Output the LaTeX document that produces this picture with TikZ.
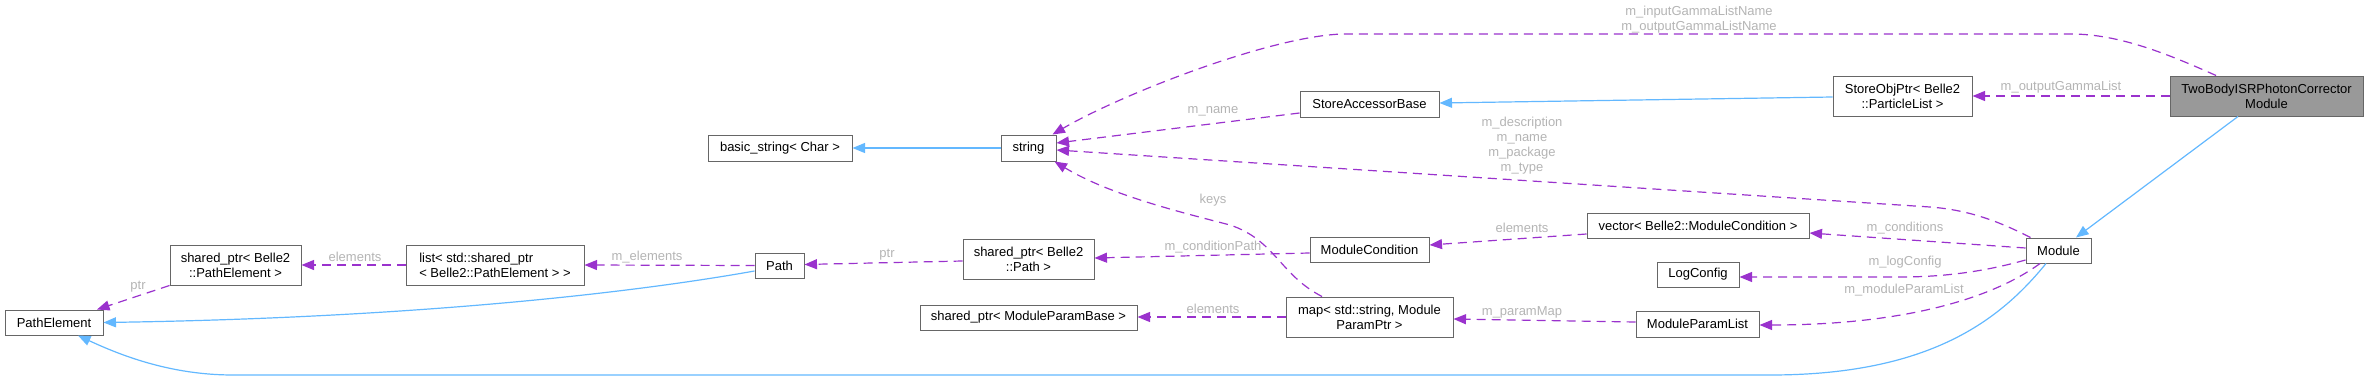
\documentclass[tikz,border=0pt]{standalone}
\usepackage{fontspec}
\setmainfont{Liberation Sans}
\usetikzlibrary{arrows.meta,calc}
\definecolor{edgepurple}{HTML}{9A32CD}
\definecolor{edgeblue}{HTML}{63B8FF}
\definecolor{boxborder}{HTML}{666666}
\definecolor{lblgray}{HTML}{B4B4B4}
\definecolor{tbfill}{HTML}{999999}
\begin{document}
\begin{tikzpicture}[x=1pt,y=-1pt,
  cls/.style={draw=boxborder,line width=1pt,fill=white,inner sep=0pt,align=center,
    font=\fontsize{13}{15}\selectfont,text=black},
  lbl/.style={font=\fontsize{13}{15}\selectfont,text=lblgray,inner sep=0pt,align=center},
  dep/.style={draw=edgepurple,line width=1.2pt,dash pattern=on 9pt off 6pt,
    -{Triangle[length=12.5pt,width=10pt,fill=edgepurple]}},
  inh/.style={draw=edgeblue,line width=1.2pt,
    -{Triangle[length=12.5pt,width=10pt,fill=edgeblue]}}]
\useasboundingbox (0,0) rectangle (2368,380);
% nodes
\node[cls,minimum width=98pt,minimum height=25pt] (pe) at (54,322.5) {PathElement};
\node[cls,minimum width=131pt,minimum height=40pt] (sppe) at (235.5,265) {shared\_ptr< Belle2\\::PathElement >};
\node[cls,minimum width=178pt,minimum height=40pt,align=left] (lst) at (495,265) {list< std::shared\_ptr\\< Belle2::PathElement > >};
\node[cls,minimum width=49pt,minimum height=25pt] (path) at (779.5,265.5) {Path};
\node[cls,minimum width=144pt,minimum height=26pt] (bstr) at (780,148) {basic\_string< Char >};
\node[cls,minimum width=55pt,minimum height=26pt] (str) at (1028.5,148) {string};
\node[cls,minimum width=131pt,minimum height=40pt] (sppath) at (1028.5,259) {shared\_ptr< Belle2\\::Path >};
\node[cls,minimum width=217pt,minimum height=25pt] (spmpb) at (1028.5,317.5) {shared\_ptr< ModuleParamBase >};
\node[cls,minimum width=139pt,minimum height=26pt] (sab) at (1369.5,104) {StoreAccessorBase};
\node[cls,minimum width=119pt,minimum height=25pt] (mc) at (1369.5,249.5) {ModuleCondition};
\node[cls,minimum width=167pt,minimum height=40pt] (map) at (1369.5,317) {map< std::string, Module\\ParamPtr >};
\node[cls,minimum width=222pt,minimum height=25pt] (vec) at (1698,225.5) {vector< Belle2::ModuleCondition >};
\node[cls,minimum width=82pt,minimum height=25pt] (log) at (1698,274.5) {LogConfig};
\node[cls,minimum width=123pt,minimum height=26pt] (mpl) at (1697.5,324) {ModuleParamList};
\node[cls,minimum width=139pt,minimum height=40pt] (sop) at (1902.5,96) {StoreObjPtr< Belle2\\::ParticleList >};
\node[cls,minimum width=193pt,minimum height=40pt,fill=tbfill] (tb) at (2266.5,96) {TwoBodyISRPhotonCorrector\\Module};
\node[cls,minimum width=65pt,minimum height=25pt] (mod) at (2058.5,250.5) {Module};
% labels
\node[lbl] (l1) at (1699,19.5) {m\_inputGammaListName\\m\_outputGammaListName};
\node[lbl] (l2) at (2061,87) {m\_outputGammaList};
\node[lbl] (l3) at (1213,111) {m\_name};
\node[lbl] (l4) at (1522,146) {m\_description\\m\_name\\m\_package\\m\_type};
\node[lbl] (l5) at (1213,200) {keys};
\node[lbl] (l6) at (1213,247) {m\_conditionPath};
\node[lbl] (l7) at (1213,309) {elements};
\node[lbl] (l8) at (1522,228) {elements};
\node[lbl] (l9) at (1522,312) {m\_paramMap};
\node[lbl] (l10) at (1905,228) {m\_conditions};
\node[lbl] (l11) at (1905,262) {m\_logConfig};
\node[lbl] (l12) at (1904,290) {m\_moduleParamList};
\node[lbl] (l13) at (887,255) {ptr};
\node[lbl] (l14) at (647,257) {m\_elements};
\node[lbl] (l15) at (355,257) {elements};
\node[lbl] (l16) at (138,287) {ptr};
% edges
\draw[dep] ($(tb.north)+(-50.5,0)$) .. controls (2170,55) and (2120,34) .. (2071,34)
  -- (1343,34) .. controls (1270,36) and (1120,95) .. ($(str.north east)+(-4,0)$);
\draw[inh] ($(sop.west)+(0,1)$) -- ($(sab.east)+(0,-1)$);
\draw[dep] (tb.west) -- (sop.east);
\draw[dep] ($(sab.west)+(0,9)$) -- ($(str.east)+(0,-5)$);
\draw[dep] ($(mod.north west)+(5,0)$) .. controls (2000,222) and (1970,210) .. (1930,207)
  -- ($(str.east)+(0,2)$);
\draw[dep] ($(map.north)+(-47.5,0)$) .. controls (1280,275) and (1275,240) .. (1230,225)
  .. controls (1180,212) and (1110,195) .. ($(str.south east)+(-2,0)$);
\draw[dep] ($(mod.west)+(0,-2.5)$) -- ($(vec.east)+(0,7.5)$);
\draw[dep] ($(mod.west)+(0,9.5)$) .. controls (1990,270) and (1950,277) .. (1900,277)
  -- ($(log.east)+(0,2.5)$);
\draw[dep] ($(mod.south)+(-18.5,0)$) .. controls (1990,300) and (1900,325) .. ($(mpl.east)+(0,1)$);
\draw[inh] ($(tb.south)+(-28.5,0)$) -- ($(mod.north)+(17.5,0)$);
\draw[inh] ($(mod.south)+(-12.5,0)$) .. controls (2000,320) and (1930,375) .. (1770,375)
  -- (233,375) .. controls (170,375) and (120,355) .. ($(pe.south)+(24,0)$);
\draw[inh] ($(path.west)+(0,5.5)$) .. controls (620,295) and (400,318) .. (pe.east);
\draw[inh] (str.west) -- (bstr.east);
\draw[dep] (lst.west) -- (sppe.east);
\draw[dep] (path.west) -- (lst.east);
\draw[dep] ($(sppath.west)+(0,2)$) -- ($(path.east)+(0,-1)$);
\draw[dep] (sppe.south west) -- ($(pe.north)+(43,0)$);
\draw[dep] ($(mc.west)+(0,3.5)$) -- ($(sppath.east)+(0,-1)$);
\draw[dep] (map.west) -- ($(spmpb.east)+(0,-0.5)$);
\draw[dep] ($(vec.west)+(0,8.5)$) -- ($(mc.east)+(0,-4.5)$);
\draw[dep] ($(mpl.west)+(0,-2)$) -- ($(map.east)+(0,2)$);
\end{tikzpicture}
\end{document}
